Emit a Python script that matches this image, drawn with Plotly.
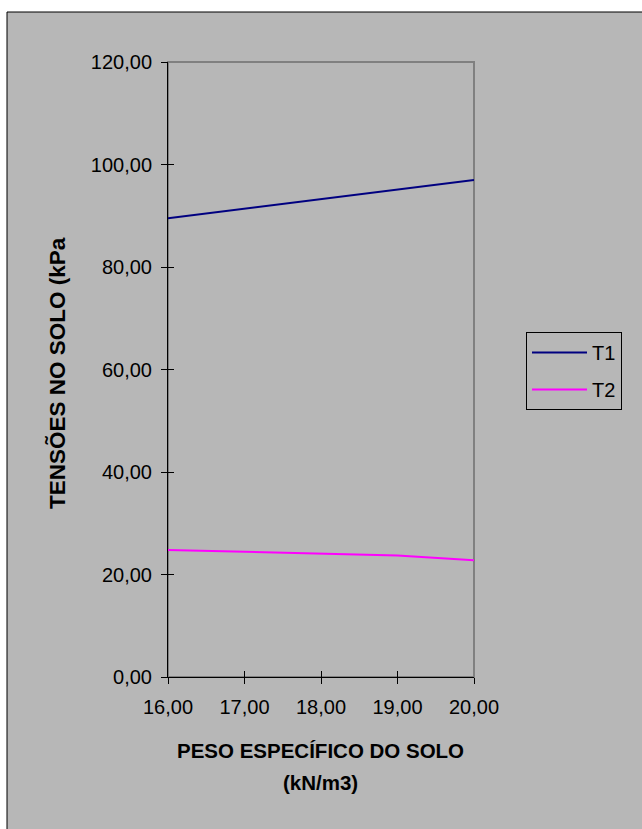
import plotly.graph_objects as go

peso = [16, 17, 18, 19, 20]
t1 = [89.5, 91.4, 93.2, 95.1, 97.0]
t2 = [24.8, 24.4, 24.0, 23.7, 22.8]
y_ticks = [0, 20, 40, 60, 80, 100, 120]
x_ticks = [16, 17, 18, 19, 20]

W, H = 642, 829
L, R, T, B = 168, 474, 62, 677
pw, ph = R - L, B - T

def px(xp):
    return (xp - L) / pw

def py(yp):
    return (B - yp) / ph

FONT = "Liberation Sans, Arial, sans-serif"

fig = go.Figure()
fig.add_trace(go.Scatter(x=peso, y=t1, mode="lines", name="T1",
                         line=dict(color="#000080", width=2), legendgroup="a"))
fig.add_trace(go.Scatter(x=peso, y=t2, mode="lines", name="T2",
                         line=dict(color="#FF00FF", width=2), legendgroup="b"))
# helper trace for inside tick marks
fig.add_trace(go.Scatter(x=[], y=[], xaxis="x2", yaxis="y2", showlegend=False, hoverinfo="skip"))

fig.update_layout(
    width=W, height=H,
    margin=dict(l=L, r=W - R, t=T, b=H - B, autoexpand=False),
    paper_bgcolor="white",
    plot_bgcolor="#C0C0C0",
    separators=",.",
    font=dict(family=FONT, size=20, color="black"),
    showlegend=True,
    legend=dict(x=px(526), y=py(332), xanchor="left", yanchor="top",
                bgcolor="rgba(0,0,0,0)", bordercolor="black", borderwidth=1,
                font=dict(size=20, family=FONT), tracegroupgap=8, itemwidth=55),
    xaxis=dict(range=[16, 20], tickvals=x_ticks, tickformat=".2f",
               showgrid=False, zeroline=False, showline=True, linecolor="black", linewidth=1,
               ticks="outside", ticklen=6, tickcolor="black", tickfont=dict(size=20),
               ticklabelstandoff=6),
    yaxis=dict(range=[0, 120], tickvals=y_ticks, tickformat=".2f",
               showgrid=False, zeroline=False, showline=True, linecolor="black", linewidth=1,
               ticks="outside", ticklen=6, tickcolor="black", tickfont=dict(size=20),
               ticklabelstandoff=5),
    xaxis2=dict(range=[16, 20], tickvals=x_ticks, overlaying="x", side="bottom",
                showticklabels=False, showgrid=False, zeroline=False, showline=False,
                ticks="inside", ticklen=6, tickcolor="black"),
    yaxis2=dict(range=[0, 120], tickvals=y_ticks, overlaying="y", side="left",
                showticklabels=False, showgrid=False, zeroline=False, showline=False,
                ticks="inside", ticklen=6, tickcolor="black"),
    shapes=[
        dict(type="rect", xref="paper", yref="paper", x0=px(7), x1=px(700), y0=py(12), y1=py(900),
             fillcolor="#B7B7B7", line=dict(color="black", width=1), layer="below"),
        dict(type="rect", xref="x domain", yref="y domain", x0=0, x1=1, y0=0, y1=1,
             line=dict(color="#808080", width=2), layer="below"),
    ],
    annotations=[
        dict(text="<b>TENSÕES NO SOLO (kPa</b>", xref="paper", yref="paper", x=px(58), y=py(373),
             xanchor="center", yanchor="middle", textangle=-90, showarrow=False,
             font=dict(size=22.5, family=FONT)),
        dict(text="<b>PESO ESPECÍFICO DO SOLO</b>", xref="paper", yref="paper", x=px(320), y=py(750),
             xanchor="center", yanchor="middle", showarrow=False, font=dict(size=20.5, family=FONT)),
        dict(text="<b>(kN/m3)</b>", xref="paper", yref="paper", x=px(320), y=py(782),
             xanchor="center", yanchor="middle", showarrow=False, font=dict(size=20.5, family=FONT)),
    ],
)

fig.write_html("out.html", config={"displayModeBar": False},
               post_script="document.body.style.margin='0';document.body.style.overflow='hidden';")
